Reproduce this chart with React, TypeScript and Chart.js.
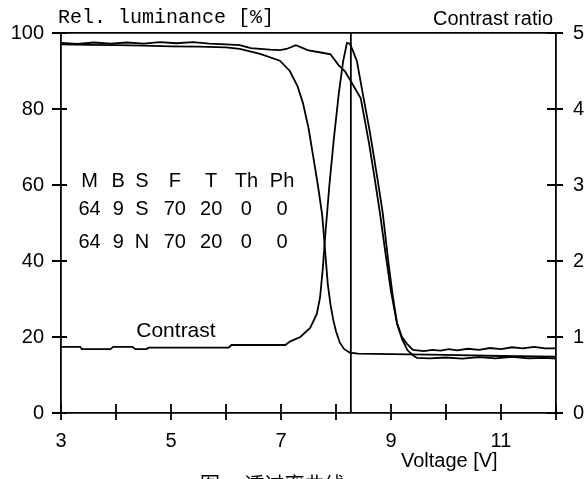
import React, { useEffect, useRef } from 'react';
import { Chart, registerables } from 'chart.js';

Chart.register(...registerables);

// ---- data ----
const sVoltage = [3.0, 3.5, 4.0, 4.5, 5.0, 5.5, 6.0, 6.25, 6.62, 6.98, 7.16, 7.3, 7.4, 7.5, 7.58, 7.67, 7.75, 7.8, 7.85, 7.9, 7.95, 8.0, 8.07, 8.15, 8.25, 8.4, 9.0, 10.0, 11.0, 12.0];
const sLuminance = [97.0, 96.9, 96.8, 96.7, 96.5, 96.4, 96.2, 95.8, 94.5, 92.7, 90.0, 86.0, 81.5, 75.0, 68.0, 60.0, 52.0, 43.0, 34.0, 28.5, 24.5, 21.5, 18.5, 16.8, 15.9, 15.6, 15.5, 15.3, 15.0, 14.8];

const nVoltage = [3.0, 3.3, 3.6, 3.9, 4.2, 4.5, 4.8, 5.1, 5.4, 5.7, 6.0, 6.25, 6.45, 6.62, 6.8, 6.98, 7.1, 7.27, 7.4, 7.5, 7.75, 7.9, 8.05, 8.16, 8.27, 8.45, 8.6, 8.7, 8.8, 8.9, 9.0, 9.11, 9.2, 9.3, 9.4, 9.47, 9.7, 10.0, 10.3, 10.6, 10.9, 11.2, 11.5, 11.8, 12.0];
const nLuminance = [97.4, 97.1, 97.5, 97.2, 97.5, 97.2, 97.6, 97.3, 97.6, 97.2, 97.0, 96.8, 96.0, 95.8, 95.6, 95.5, 95.8, 96.8, 96.0, 95.4, 94.8, 94.4, 91.5, 90.0, 87.3, 82.8, 71.0, 62.0, 52.5, 42.0, 32.0, 23.5, 19.5, 16.5, 15.2, 14.5, 14.4, 14.6, 14.3, 14.7, 14.4, 14.8, 14.4, 14.5, 14.3];

const contrastVoltage = [3.0, 3.35, 3.38, 3.9, 3.95, 4.3, 4.35, 4.55, 4.6, 6.05, 6.1, 7.08, 7.16, 7.35, 7.53, 7.65, 7.71, 7.76, 7.8, 7.88, 7.96, 8.05, 8.13, 8.2, 8.25, 8.3, 8.38, 8.5, 8.62, 8.75, 8.85, 8.95, 9.03, 9.11, 9.2, 9.29, 9.4, 9.6, 9.75, 9.9, 10.05, 10.2, 10.4, 10.6, 10.8, 11.0, 11.2, 11.4, 11.6, 11.8, 12.0];
const contrastRatio = [0.87, 0.87, 0.84, 0.84, 0.87, 0.87, 0.84, 0.84, 0.86, 0.86, 0.895, 0.895, 0.94, 1.0, 1.12, 1.3, 1.52, 1.9, 2.3, 3.0, 3.6, 4.2, 4.63, 4.87, 4.86, 4.78, 4.63, 4.15, 3.68, 3.1, 2.63, 2.0, 1.55, 1.18, 1.0, 0.91, 0.83, 0.815, 0.83, 0.82, 0.84, 0.825, 0.845, 0.83, 0.855, 0.84, 0.865, 0.85, 0.87, 0.85, 0.85];

const cursorVoltage = 8.27;

const tableHeader = ['M', 'B', 'S', 'F', 'T', 'Th', 'Ph'];
const tableRow1 = ['64', '9', 'S', '70', '20', '0', '0'];
const tableRow2 = ['64', '9', 'N', '70', '20', '0', '0'];
const tableColumnVoltage = [3.52, 4.04, 4.47, 5.07, 5.73, 6.37, 7.02];
const tableRowLuminance = [61.0, 53.6, 44.9];

const leftTitle = 'Rel. luminance [%]';
const rightTitle = 'Contrast ratio';
const xTitle = 'Voltage [V]';
const curveLabel = 'Contrast';
const caption = '图一 透过率曲线';

const SANS = "'Liberation Sans', Arial, sans-serif";
const MONO = "'Liberation Mono', 'Courier New', monospace";
const CJK = "'Noto Sans CJK SC', sans-serif";
const LW = 1.8;

const toXY = (xs: number[], ys: number[]) => xs.map((x, i) => ({ x, y: ys[i] }));

const crossTicks = {
  id: 'crossTicks',
  afterDraw(chart: any) {
    const { ctx, chartArea, scales } = chart;
    ctx.save();
    ctx.strokeStyle = '#000';
    ctx.lineWidth = LW;
    ctx.beginPath();
    scales.x.ticks.forEach((t: any) => {
      const p = scales.x.getPixelForValue(t.value);
      ctx.moveTo(p, chartArea.bottom - 9);
      ctx.lineTo(p, chartArea.bottom + 7);
    });
    scales.y.ticks.forEach((t: any) => {
      const p = scales.y.getPixelForValue(t.value);
      ctx.moveTo(chartArea.left - 9, p);
      ctx.lineTo(chartArea.left + 6, p);
    });
    scales.y2.ticks.forEach((t: any) => {
      const p = scales.y2.getPixelForValue(t.value);
      ctx.moveTo(chartArea.right - 9, p);
      ctx.lineTo(chartArea.right + 7, p);
    });
    ctx.stroke();

    // texts
    ctx.fillStyle = '#000';
    ctx.font = `20px ${MONO}`;
    ctx.textAlign = 'left';
    ctx.textBaseline = 'alphabetic';
    ctx.fillText(leftTitle, chartArea.left - 3, 23);

    ctx.font = `20px ${SANS}`;
    ctx.textAlign = 'right';
    ctx.fillText(rightTitle, chartArea.right - 3, 25);

    ctx.textAlign = 'center';
    ctx.fillText(xTitle, scales.x.getPixelForValue(10.06), 467);

    ctx.textBaseline = 'middle';
    ctx.font = `21px ${SANS}`;
    ctx.fillText(curveLabel, scales.x.getPixelForValue(5.09), scales.y.getPixelForValue(21.5));
    ctx.font = `20px ${SANS}`;
    [tableHeader, tableRow1, tableRow2].forEach((row, r) => {
      const py = scales.y.getPixelForValue(tableRowLuminance[r]);
      row.forEach((txt, c) => {
        ctx.fillText(txt, scales.x.getPixelForValue(tableColumnVoltage[c]), py);
      });
    });

    ctx.font = `20px ${CJK}`;
    ctx.textAlign = 'left';
    ctx.textBaseline = 'top';
    ctx.fillText(caption, 200, 474);
    ctx.restore();
  },
};

export default function App() {
  const ref = useRef<HTMLCanvasElement>(null);
  useEffect(() => {
    if (!ref.current) return;
    const lineStyle = { borderColor: '#000', borderWidth: LW, pointRadius: 0, tension: 0, fill: false };
    const tickFont = { family: SANS, size: 20 };
    const chart = new Chart(ref.current, {
      type: 'line',
      data: {
        datasets: [
          { ...lineStyle, label: 'S', data: toXY(sVoltage, sLuminance), xAxisID: 'x', yAxisID: 'y' },
          { ...lineStyle, label: 'N', data: toXY(nVoltage, nLuminance), xAxisID: 'x', yAxisID: 'y' },
          { ...lineStyle, label: 'Contrast', data: toXY(contrastVoltage, contrastRatio), xAxisID: 'x', yAxisID: 'y2' },
          { ...lineStyle, label: 'Cursor', data: [{ x: cursorVoltage, y: 0 }, { x: cursorVoltage, y: 100 }], xAxisID: 'x', yAxisID: 'y' },
        ],
      },
      options: {
        responsive: false,
        maintainAspectRatio: false,
        animation: false,
        layout: { padding: 0 },
        plugins: { legend: { display: false }, tooltip: { enabled: false }, title: { display: false } },
        scales: {
          x: {
            type: 'linear', position: 'bottom', min: 3, max: 12,
            ticks: { stepSize: 1, autoSkip: false, maxRotation: 0, color: '#000', font: tickFont, padding: 16,
              callback: (v: any) => ((Number(v) - 3) % 2 === 0 ? String(v) : '') },
            grid: { display: false, drawTicks: false },
            border: { display: true, color: '#000', width: LW },
            afterFit: (s: any) => { s.height = 66; },
          },
          xTop: {
            type: 'linear', position: 'top', min: 3, max: 12,
            ticks: { display: false },
            grid: { display: false, drawTicks: false },
            border: { display: true, color: '#000', width: LW },
            afterFit: (s: any) => { s.height = 33; },
          },
          y: {
            type: 'linear', position: 'left', min: 0, max: 100,
            ticks: { stepSize: 20, color: '#000', font: tickFont, padding: 17 },
            grid: { display: false, drawTicks: false },
            border: { display: true, color: '#000', width: LW },
            afterFit: (s: any) => { s.width = 61; },
          },
          y2: {
            type: 'linear', position: 'right', min: 0, max: 5,
            ticks: { stepSize: 1, color: '#000', font: tickFont, padding: 17 },
            grid: { display: false, drawTicks: false },
            border: { display: true, color: '#000', width: LW },
            afterFit: (s: any) => { s.width = 31; },
          },
        },
      } as any,
      plugins: [crossTicks],
    });
    return () => chart.destroy();
  }, []);
  return (
    <div style={{ position: 'fixed', left: 0, top: 0, width: 587, height: 479, background: '#fff', overflow: 'hidden' }}>
      <canvas ref={ref} width={587} height={479} style={{ display: 'block', width: 587, height: 479 }} />
    </div>
  );
}
